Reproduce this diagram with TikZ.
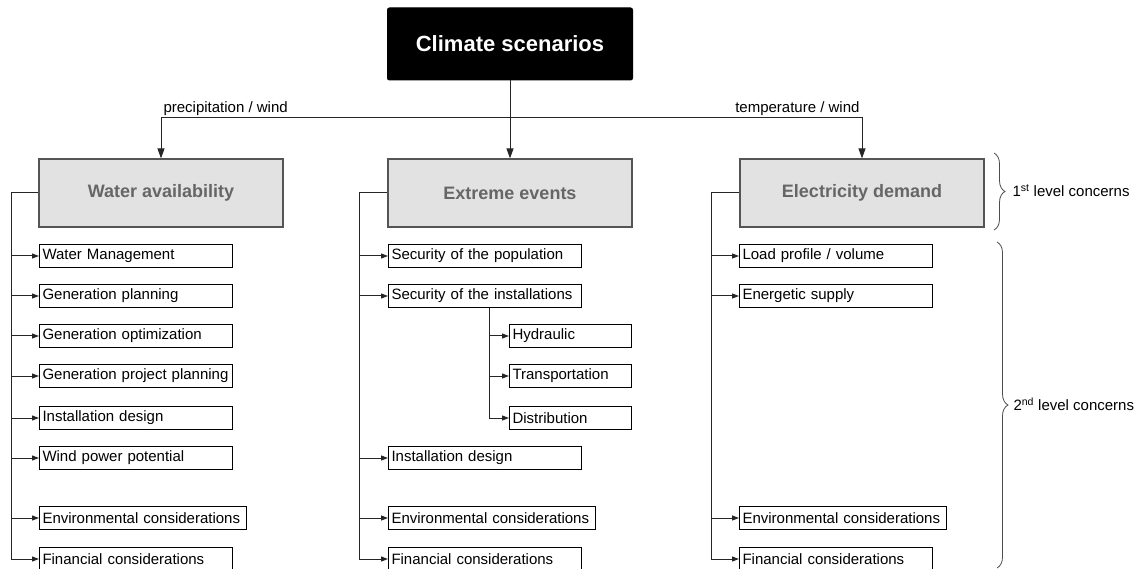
\documentclass[tikz,border=0pt]{standalone}
\usepackage{fontspec}
\setmainfont{Liberation Sans}
\usetikzlibrary{arrows.meta,decorations.pathreplacing}
\definecolor{lvlfill}{HTML}{E2E2E2}
\definecolor{lvltext}{HTML}{666666}
\definecolor{lvldraw}{HTML}{555555}

\begin{document}
\begin{tikzpicture}[x=1pt,y=-1pt,line width=1pt,
    top/.style={draw=black,fill=black,rounded corners=2pt,minimum width=245pt,minimum height=72pt,text=white,font=\fontsize{22}{26}\selectfont\bfseries},
    concern/.style={draw=lvldraw,fill=lvlfill,line width=1.2pt,minimum width=244pt,minimum height=68pt,text=lvltext,font=\fontsize{18}{22}\selectfont\bfseries},
    sub/.style={draw=black,fill=white,anchor=west,text width=#1,align=left,inner xsep=3pt,inner ysep=0pt,minimum height=23pt,font=\fontsize{15}{18}\selectfont},
    sub/.default=187pt,
    link/.style={draw=black!85,-{Triangle[length=7pt,width=5pt]}},
    drop/.style={draw=black!85,-{Triangle[length=10pt,width=7pt]}},
    lbl/.style={font=\fontsize{15}{18}\selectfont,inner sep=2pt},
    level/.style={draw=black!70,line width=0.8pt,decorate,decoration={brace,amplitude=11pt}}]
    \useasboundingbox (0,0) rectangle (1138,569);

    % top and first level
    \node[top] (clim) at (510,44) {Climate scenarios};
    \node[concern] (wat) at (161,193) {Water availability};
    \node[concern] (ext) at (510,193) {Extreme events};
    \node[concern] (elec) at (862,193) {Electricity demand};

    \coordinate (bus) at (510,118);
    \draw[black!85] (clim.south) -- (bus);
    \draw[drop] (bus) -- (ext.north);
    \draw[drop] (bus) -| node[pos=0.5,lbl,anchor=south west] (pw) {precipitation / wind} (wat.north);
    \draw[drop] (bus) -| node[pos=0.5,lbl,anchor=south east] (tw) {temperature / wind} (elec.north);

    % water availability
    \node[sub] (w1) at (39,256) {Water Management};
    \node[sub] (w2) at (39,296) {Generation planning};
    \node[sub] (w3) at (39,336) {Generation optimization};
    \node[sub] (w4) at (39,376) {Generation project planning};
    \node[sub] (w5) at (39,418) {Installation design};
    \node[sub] (w6) at (39,458) {Wind power potential};
    \node[sub=201pt] (w7) at (39,518) {Environmental considerations};
    \node[sub] (w8) at (39,559) {Financial considerations};

    \draw[black!85] (wat.west) -- ++(-27,0) coordinate (wt);
    \foreach \n in {w1,w2,w3,w4,w5,w6,w7,w8}
        \draw[link] (wt) |- (\n.west);

    % extreme events
    \node[sub] (e1) at (388,256) {Security of the population};
    \node[sub] (e2) at (388,296) {Security of the installations};
    \node[sub=116pt] (e3) at (509,336) {Hydraulic};
    \node[sub=116pt] (e4) at (509,376) {Transportation};
    \node[sub=116pt] (e5) at (509,418) {Distribution};
    \node[sub] (e6) at (388,458) {Installation design};
    \node[sub=201pt] (e7) at (388,518) {Environmental considerations};
    \node[sub] (e8) at (388,559) {Financial considerations};

    \draw[black!85] (ext.west) -- ++(-28,0) coordinate (et);
    \foreach \n in {e1,e2,e6,e7,e8}
        \draw[link] (et) |- (\n.west);
    \foreach \n in {e3,e4,e5}
        \draw[link] ([xshift=4pt]e2.south) |- (\n.west);

    % electricity demand
    \node[sub] (d1) at (739,256) {Load profile / volume};
    \node[sub] (d2) at (739,296) {Energetic supply};
    \node[sub=201pt] (d3) at (739,518) {Environmental considerations};
    \node[sub] (d4) at (739,559) {Financial considerations};

    \draw[black!85] (elec.west) -- ++(-28,0) coordinate (dt);
    \foreach \n in {d1,d2,d3,d4}
        \draw[link] (dt) |- (\n.west);

    % levels
    \draw[level] (994,153) -- (994,230);
    \node[lbl,anchor=west] (l1) at (1010,191) {1\textsuperscript{st} level concerns};
    \draw[level] (997,242) -- (997,568);
    \node[lbl,anchor=west] (l2) at (1011,404) {2\textsuperscript{nd} level concerns};
\end{tikzpicture}
\end{document}
